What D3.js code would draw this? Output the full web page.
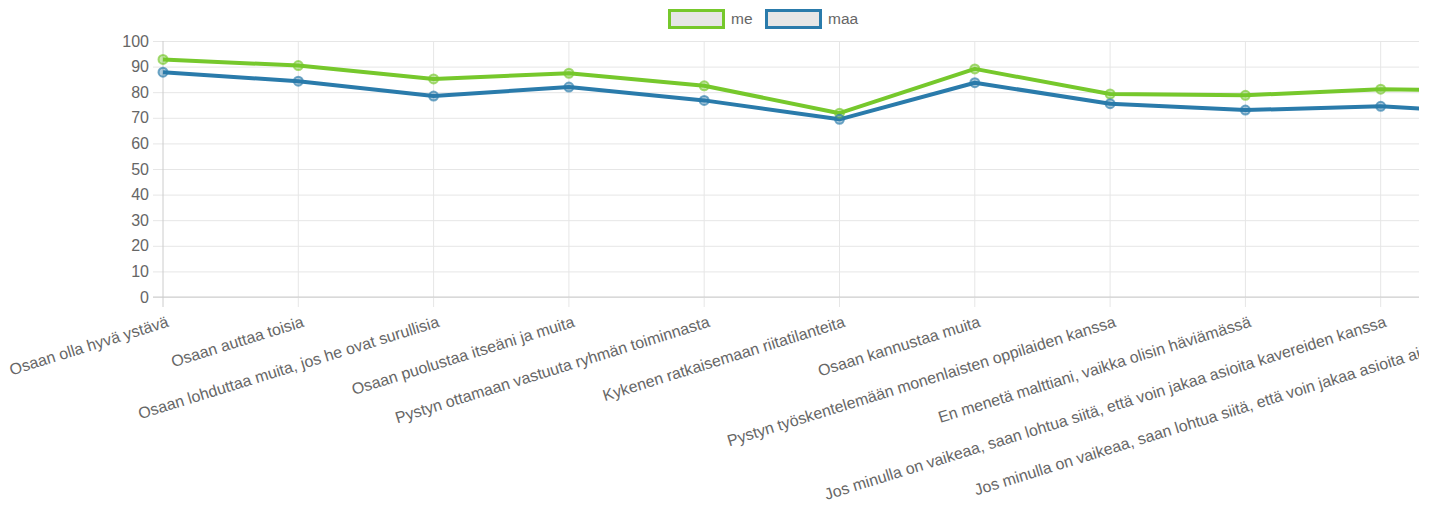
<!DOCTYPE html>
<html>
<head>
<meta charset="utf-8">
<script src="https://cdn.jsdelivr.net/npm/d3@7"></script>
<style>
  body { margin: 0; background: #fff; font-family: "Liberation Sans", Arial, sans-serif; }
  #chart { width: 1440px; height: 505px; overflow: hidden; }
  .tick text { fill: #666; }
</style>
</head>
<body>
<div id="chart"></div>
<script>
// Data
//= ================================
var categories = [
  "Osaan olla hyvä ystävä",
  "Osaan auttaa toisia",
  "Osaan lohduttaa muita, jos he ovat surullisia",
  "Osaan puolustaa itseäni ja muita",
  "Pystyn ottamaan vastuuta ryhmän toiminnasta",
  "Kykenen ratkaisemaan riitatilanteita",
  "Osaan kannustaa muita",
  "Pystyn työskentelemään monenlaisten oppilaiden kanssa",
  "En menetä malttiani, vaikka olisin häviämässä",
  "Jos minulla on vaikeaa, saan lohtua siitä, että voin jakaa asioita kavereiden kanssa",
  "Jos minulla on vaikeaa, saan lohtua siitä, että voin jakaa asioita aikuisten kanssa"
];
var meValues = [92.8, 90.4, 85.2, 87.4, 82.5, 71.8, 89.1, 79.3, 78.8, 81.2, 80.3];
var maaValues = [87.8, 84.3, 78.5, 82.0, 76.8, 69.4, 83.7, 75.5, 73.0, 74.5, 71.3];
var yTicks = [0, 10, 20, 30, 40, 50, 60, 70, 80, 90, 100];

var series = [
  { name: "me", values: meValues, color: "#76c82c" },
  { name: "maa", values: maaValues, color: "#2a7bab" }
];

// Set up chart
//= ================================
var svgWidth = 1526;
var svgHeight = 505;
var visibleWidth = 1419;

var margin = { top: 41, right: 10, bottom: 208, left: 163 };
var width = svgWidth - margin.left - margin.right;
var height = svgHeight - margin.top - margin.bottom;

var svg = d3.select("#chart")
  .append("svg")
  .attr("width", svgWidth)
  .attr("height", svgHeight);

// the chart is wider than its box and gets cut on the right
svg.append("clipPath")
  .attr("id", "clip")
  .append("rect")
  .attr("x", 0).attr("y", 0)
  .attr("width", visibleWidth).attr("height", svgHeight);

var root = svg.append("g").attr("clip-path", "url(#clip)");

var chartGroup = root.append("g")
  .attr("transform", `translate(${margin.left}, ${margin.top})`);

// scales
var xScale = d3.scalePoint()
  .domain(categories)
  .range([0, width]);

var yScale = d3.scaleLinear()
  .domain([0, 100])
  .range([height, 0]);

// horizontal grid + y axis
var leftAxis = d3.axisLeft(yScale)
  .tickValues(yTicks)
  .tickSize(10)
  .tickPadding(4);

var yAxisG = chartGroup.append("g")
  .call(leftAxis)
  .style("font-size", "16px")
  .style("font-family", "'Liberation Sans', Arial, sans-serif");
yAxisG.select(".domain").remove();
yAxisG.selectAll(".tick line").attr("stroke", "#e6e6e6").attr("x1", -10).attr("x2", width);
yAxisG.selectAll(".tick text").attr("fill", "#666");

// vertical grid
chartGroup.append("g")
  .selectAll("line")
  .data(categories)
  .enter()
  .append("line")
  .attr("x1", d => xScale(d))
  .attr("x2", d => xScale(d))
  .attr("y1", 0)
  .attr("y2", height + 10)
  .attr("stroke", (d, i) => i === 0 ? "#cccccc" : "#e6e6e6");

// zero line
chartGroup.append("line")
  .attr("x1", -10)
  .attr("x2", width)
  .attr("y1", yScale(0))
  .attr("y2", yScale(0))
  .attr("stroke", "#cccccc");

// x labels
chartGroup.append("g")
  .selectAll("text")
  .data(categories)
  .enter()
  .append("text")
  .attr("transform", d => `translate(${xScale(d) + 3}, ${height + 18}) rotate(-17.2)`)
  .attr("text-anchor", "end")
  .attr("dy", "0.75em")
  .attr("fill", "#666")
  .style("font-size", "16px")
  .text(d => d);

// lines
var line = d3.line()
  .x((d, i) => xScale(categories[i]))
  .y(d => yScale(d));

series.forEach(function(s) {
  chartGroup.append("path")
    .datum(s.values)
    .attr("fill", "none")
    .attr("stroke", s.color)
    .attr("stroke-width", 4)
    .attr("stroke-linejoin", "round")
    .attr("d", line);
});

series.forEach(function(s) {
  chartGroup.append("g")
    .selectAll("circle")
    .data(s.values)
    .enter()
    .append("circle")
    .attr("cx", (d, i) => xScale(categories[i]))
    .attr("cy", d => yScale(d))
    .attr("r", 4.5)
    .attr("fill", s.color)
    .attr("fill-opacity", 0.4)
    .attr("stroke", s.color)
    .attr("stroke-opacity", 0.65)
    .attr("stroke-width", 2);
});

// legend
var legend = svg.append("g").attr("transform", "translate(668, 9)");
var legendX = [0, 97];
series.forEach(function(s, i) {
  var g = legend.append("g").attr("transform", `translate(${legendX[i]}, 0)`);
  g.append("rect")
    .attr("x", 1.5).attr("y", 1.5)
    .attr("width", 54).attr("height", 17)
    .attr("fill", "#e6e6e6")
    .attr("stroke", s.color)
    .attr("stroke-width", 3);
  g.append("text")
    .attr("x", 63).attr("y", 10)
    .attr("dy", "0.35em")
    .attr("fill", "#666")
    .style("font-size", "15.5px")
    .text(s.name);
});
</script>
</body>
</html>
